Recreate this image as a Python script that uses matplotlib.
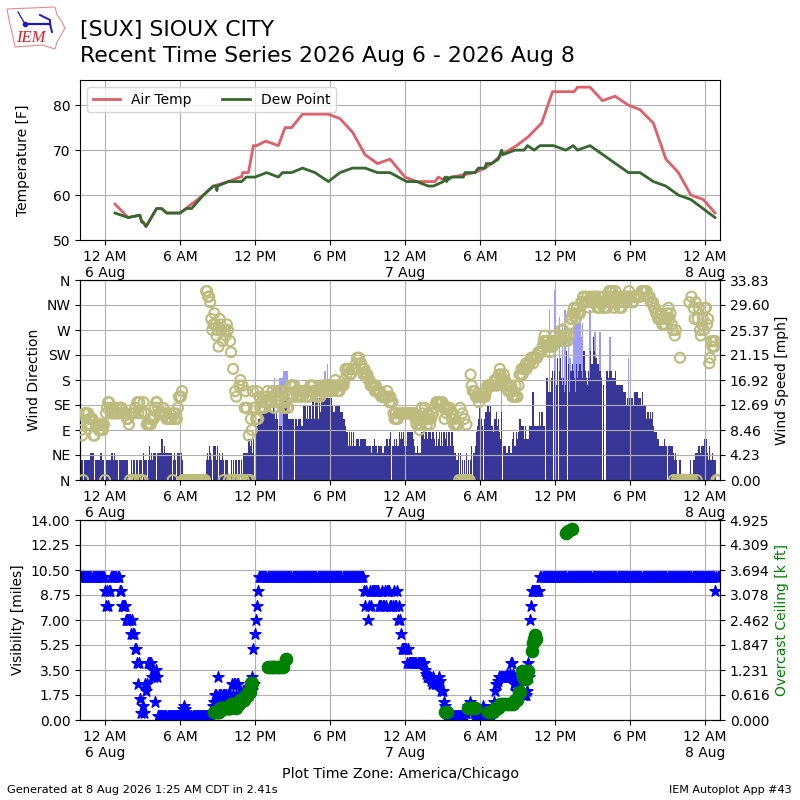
#!/usr/bin/env python3
# Recent time series plot for SUX: temperature, wind, visibility / ceiling
import matplotlib
matplotlib.use("Agg")
import matplotlib.pyplot as plt
from matplotlib.lines import Line2D
from matplotlib.patches import Polygon
import numpy as np

# x values are hours after midnight on 6 Aug (local time)
temp_hours = [0.8, 1.85, 2.75, 2.95, 3.05, 3.28, 4.13, 4.53, 4.93, 6.0, 6.93, 7.87, 8.67,
              9.87, 10.8, 10.93, 11.0, 11.47, 11.87, 12.13, 12.85, 13.87, 14.4, 14.93, 15.8, 17.87,
              18.8, 19.8, 20.8, 21.8, 22.8, 24.0, 24.93, 26.4, 26.67, 27.0, 27.73, 28.67,
              29.6, 30.4, 30.93, 31.73, 32.93, 33.87, 34.93, 35.8, 37.53, 37.8, 38.8, 39.8,
              40.8, 41.87, 42.8, 43.87, 44.87, 45.87, 46.87, 47.87, 48.8]
air_temp = [58, 55, 55.5, 54, 54, 53, 57, 57, 56, 56, 58, 60, 62,
            63, 64, 64, 65, 65, 71, 71, 72, 71, 75, 75, 78, 78,
            77, 74, 69, 67, 68, 64, 63, 63, 64, 63.5, 64, 64.5,
            65, 66, 67, 69, 71, 73, 76, 83, 83, 84, 84, 81,
            82, 80, 79, 76, 68, 65, 60, 59, 56]

dew_hours = [0.8, 1.85, 2.75, 2.8, 2.95, 3.05, 3.28, 4.13, 4.53, 4.93, 6.0, 6.53, 6.93, 7.87,
             8.67, 8.9, 8.95, 9.0, 9.87, 10.93, 11.3, 12.0, 12.93, 13.87, 14.2, 14.93, 15.8,
             16.8, 17.87, 18.8, 19.8, 20.8, 21.8, 22.8, 24.13, 24.93, 25.87, 26.27, 27.07,
             27.2, 27.33, 27.4, 27.5, 27.73, 28.67, 28.8, 29.6, 29.87, 30.4, 30.5, 30.93,
             31.47, 31.73, 31.84, 32.8, 33.53, 33.8, 34.33, 34.8, 35.87, 36.87, 37.47, 37.8,
             38.8, 41.87, 42.8, 43.87, 44.87, 45.87, 46.87, 48.8]
dew_point = [56, 55, 55.5, 55.5, 54, 54, 53, 57, 57, 56, 56, 57, 57, 60,
             62, 62, 61, 62, 63, 63, 64, 64, 65, 64, 65, 65, 66,
             65, 63, 65, 66, 66, 65, 65, 63, 63, 62, 62, 63,
             64, 63, 64, 63.5, 64, 64, 65, 65, 66, 66, 67, 67,
             68, 70, 69, 70, 70, 71, 70, 71, 71, 70, 71, 70,
             71, 65, 65, 63, 62, 60, 59, 55]

# one row per hour, from 22:00 on 5 Aug, 5 minute observations
wind_kt = [
    3, 3, 3, 0, 3, 3, 3, 3, 3, 3, 4, 4,
    4, 4, 0, 3, 3, 3, 3, 3, 4, 4, 3, 3,
    0, 3, 3, 3, 3, 3, 4, 4, 3, 4, 3, 3,
    3, 0, 3, 3, 3, 3, 3, 3, 3, 3, 3, 0,
    0, 3, 0, 3, 3, 0, 3, 3, 0, 3, 3, 3,
    0, 4, 3, 3, 3, 0, 3, 5, 3, 4, 3, 4,
    4, 0, 4, 4, 4, 4, 6, 6, 4, 5, 4, 4,
    4, 4, 4, 4, 4, 0, 3, 4, 3, 0, 4, 4,
    4, 4, 3, 0, 0, 0, 0, 0, 0, 0, 0, 0,
    0, 0, 0, 0, 0, 0, 0, 0, 0, 0, 0, 0,
    0, 3, 4, 3, 5, 4, 3, 0, 5, 5, 5, 3,
    5, 0, 4, 3, 3, 4, 3, 0, 3, 3, 3, 0,
    0, 3, 0, 3, 0, 3, 3, 0, 3, 3, 0, 3,
    0, 4, 4, 4, 4, 4, 6, 6, 5, 6, 4, 7,
    0, 8, 8, 9, 9, 9, 9, 10, 10, 11, 10, 11,
    10, 10, 10, 11, 10, 10, 11, 10, 9, 10, 9, 0,
    8, 8, 0, 11, 12, 12, 11, 11, 9, 9, 9, 9,
    9, 9, 0, 9, 9, 8, 9, 9, 9, 8, 8, 11,
    11, 9, 11, 9, 11, 11, 9, 12, 12, 9, 12, 12,
    12, 9, 12, 10, 12, 12, 12, 12, 12, 12, 12, 12,
    12, 12, 11, 10, 10, 11, 11, 11, 11, 11, 10, 10,
    10, 9, 9, 8, 7, 7, 5, 7, 5, 7, 5, 7,
    5, 6, 6, 6, 5, 6, 6, 6, 6, 6, 6, 5,
    5, 5, 5, 5, 4, 5, 5, 6, 5, 5, 4, 5,
    5, 5, 4, 4, 5, 5, 6, 6, 5, 6, 7, 0,
    5, 5, 6, 5, 6, 5, 5, 7, 6, 7, 6, 7,
    5, 5, 7, 7, 7, 7, 7, 7, 6, 5, 4, 4,
    5, 4, 4, 4, 7, 7, 7, 6, 7, 7, 6, 7,
    7, 6, 7, 7, 6, 5, 7, 5, 6, 7, 5, 7,
    5, 7, 7, 6, 7, 5, 7, 7, 5, 7, 7, 5,
    4, 3, 3, 4, 0, 4, 0, 3, 0, 3, 0, 4,
    0, 3, 0, 3, 5, 0, 4, 4, 5, 7, 8, 9,
    11, 9, 8, 0, 9, 10, 10, 11, 11, 10, 11, 8,
    8, 7, 9, 9, 10, 8, 9, 7, 6, 10, 0, 5,
    5, 4, 4, 5, 5, 4, 4, 6, 7, 5, 5, 7,
    6, 7, 9, 9, 8, 8, 8, 6, 8, 6, 6, 6,
    8, 8, 13, 13, 8, 8, 8, 8, 8, 10, 8, 10,
    10, 8, 8, 0, 15, 15, 13, 13, 13, 15, 16, 0,
    16, 14, 18, 0, 16, 18, 15, 14, 15, 13, 14, 19,
    0, 17, 13, 16, 16, 17, 16, 15, 13, 17, 15, 16,
    17, 16, 15, 19, 19, 16, 15, 14, 16, 15, 19, 17,
    17, 21, 19, 18, 18, 17, 17, 16, 16, 15, 0, 14,
    0, 16, 16, 15, 16, 16, 16, 15, 15, 15, 16, 14,
    14, 14, 14, 14, 14, 14, 13, 13, 13, 11, 12, 11,
    12, 12, 12, 11, 13, 13, 13, 13, 12, 12, 12, 11,
    13, 11, 11, 11, 9, 10, 10, 9, 10, 9, 10, 8,
    7, 7, 6, 6, 5, 5, 5, 5, 5, 6, 5, 5,
    0, 5, 5, 5, 5, 5, 4, 3, 4, 3, 0, 0,
    3, 0, 0, 0, 0, 0, 0, 0, 0, 0, 3, 0,
    0, 3, 3, 4, 4, 4, 5, 5, 4, 5, 5, 5,
    6, 6, 4, 3, 5, 3, 3, 4, 3, 3, 3, 0,
    0, 0,
]

wind_dir = [
    100, 90, 80, 0, 120, 120, 120, 100, 120, 110, 100, 110,
    110, 80, 80, 100, 100, 100, 90, 100, 90, 100, 90, 100,
    0, 120, 130, 140, 140, 130, 120, 120, 130, 120, 120, 130,
    120, 120, 130, 130, 130, 120, 120, 120, 120, 110, 110, 100,
    0, 120, 120, 0, 120, 130, 0, 140, 120, 140, 0, 120,
    0, 140, 120, 120, 100, 100, 100, 110, 100, 110, 110, 110,
    130, 140, 140, 130, 120, 120, 120, 120, 130, 120, 120, 110,
    110, 110, 120, 110, 110, 0, 120, 110, 120, 110, 130, 150,
    150, 150, 160, 0, 0, 0, 0, 0, 0, 0, 0, 0,
    0, 0, 0, 0, 0, 0, 0, 0, 0, 0, 0, 0,
    0, 340, 340, 330, 330, 320, 290, 270, 280, 300, 280, 260,
    270, 240, 290, 280, 270, 250, 0, 270, 260, 280, 270, 0,
    250, 230, 0, 200, 0, 160, 150, 0, 0, 170, 180, 0,
    170, 0, 130, 160, 130, 0, 80, 0, 110, 90, 160, 130,
    130, 110, 160, 110, 150, 130, 140, 130, 150, 130, 140, 150,
    160, 140, 140, 150, 140, 160, 130, 130, 150, 140, 160, 160,
    160, 150, 160, 130, 130, 140, 140, 130, 130, 150, 170, 170,
    170, 150, 170, 160, 150, 160, 150, 160, 150, 160, 150, 160,
    160, 150, 160, 150, 150, 170, 170, 160, 170, 160, 160, 150,
    160, 150, 160, 150, 170, 160, 170, 170, 160, 170, 160, 170,
    170, 160, 170, 160, 170, 180, 170, 160, 170, 160, 170, 170,
    170, 170, 180, 200, 190, 200, 200, 190, 190, 200, 200, 200,
    200, 210, 220, 220, 220, 210, 210, 200, 190, 200, 190, 190,
    190, 180, 180, 170, 170, 170, 170, 160, 170, 160, 160, 160,
    160, 150, 150, 150, 150, 150, 150, 160, 150, 140, 150, 140,
    140, 120, 110, 120, 110, 110, 120, 120, 120, 120, 120, 120,
    120, 120, 120, 120, 120, 120, 120, 120, 120, 120, 110, 100,
    110, 100, 90, 100, 130, 120, 110, 130, 110, 100, 120, 110,
    100, 110, 120, 120, 130, 130, 140, 140, 140, 140, 140, 140,
    140, 130, 110, 130, 120, 130, 130, 130, 120, 110, 120, 100,
    110, 100, 100, 100, 0, 130, 0, 120, 0, 110, 0, 100,
    0, 0, 0, 190, 170, 160, 160, 160, 150, 150, 150, 140,
    150, 150, 150, 150, 150, 150, 160, 170, 170, 170, 170, 170,
    170, 170, 180, 170, 180, 170, 190, 200, 190, 180, 180, 190,
    180, 170, 170, 160, 170, 160, 170, 150, 160, 150, 170, 150,
    150, 170, 190, 190, 200, 190, 200, 200, 210, 200, 210, 210,
    210, 220, 220, 210, 220, 220, 220, 220, 230, 230, 230, 230,
    240, 250, 260, 250, 240, 250, 240, 230, 240, 250, 240, 250,
    260, 250, 250, 250, 250, 260, 270, 250, 270, 260, 250, 260,
    250, 260, 280, 290, 290, 300, 310, 300, 290, 310, 300, 300,
    300, 320, 320, 330, 330, 320, 320, 330, 320, 310, 330, 320,
    320, 330, 330, 330, 320, 310, 330, 310, 320, 330, 320, 310,
    310, 320, 310, 330, 340, 340, 330, 340, 320, 310, 340, 330,
    330, 320, 310, 320, 310, 330, 320, 330, 330, 320, 330, 340,
    330, 330, 320, 320, 330, 330, 330, 330, 330, 330, 330, 340,
    340, 340, 340, 340, 340, 330, 330, 330, 320, 320, 320, 310,
    310, 300, 300, 290, 290, 300, 290, 280, 280, 290, 280, 290,
    300, 310, 290, 300, 280, 270, 0, 260, 270, 0, 0, 0,
    220, 0, 0, 0, 0, 0, 0, 0, 0, 320, 0, 330,
    0, 310, 290, 320, 0, 290, 310, 270, 260, 280, 290, 270,
    310, 310, 280, 290, 210, 220, 250, 240, 250, 240, 250, 0,
    0, 0,
]

gust_hours = [13.57, 14.0, 14.08, 14.17, 14.25, 14.33, 14.42, 14.5, 14.58, 17.6, 17.79,
              31.73, 35.33, 35.55, 35.95, 36.35, 36.6, 36.8, 37.07, 37.2, 37.47, 37.55,
              37.63, 37.72, 37.8, 37.88, 37.97, 38.05, 38.13, 38.22, 38.8, 39.2, 39.6,
              40.4, 41.87]
gust_mph = [17.2, 17.2, 17.2, 17.2, 18.4, 18.4, 18.4, 18.4, 18.4, 18.4, 19.6,
            15.5, 17.2, 28.8, 32.2, 27.6, 26.5, 28.8, 24.2, 20.7, 26.5, 26.5,
            27.6, 26.5, 27.6, 26.5, 27.6, 26.5, 24.2, 26.5, 28.8, 25.0, 25.0,
            24.2, 20.7]

visibility = (
    [10] * 24
    + [9, 8, 9, 8, 9, 9, 10, 10, 10, 10, 10, 10]
    + [10, 10, 9, 9, 8, 8, 8, 8, 7, 7, 7, 7]
    + [7, 6, 7, 6, 6, 5, 5, 4, 2.5, 4, 1.5, 0.5]
    + [1, 0.5, 2.5, 2, 2.5, 4, 4, 4, 4, 3, 3.5, 3]
    + [1.25, 3.5, 3, 0.25, 0.25, 0.25, 0.25, 0.25, 0.25, 0.25, 0.25, 0.25]
    + [0.25] * 12
    + [0.25, 0.5, 0.5, 0.75, 1, 0.75, 0.5, 0.25, 0.25, 0.25, 0.25, 0.25]
    + [0.25] * 12
    + [0.25, 0.25, 0.25, 0.25, 0.25, 0.25, 0.25, 0.5, 1, 1.25, 1.75, 1.75]
    + [3, 1.75, 1.75, 1.75, 1.5, 1.75, 1.75, 1.75, 1.75, 1.5, 1.75, 1.75]
    + [1.75, 1.25, 2.5, 1.75, 2.5, 2.5, 1.75, 2.5, 2.5, 1.75, 1.75, 1.75]
    + [2, 2, 2, 2, 2, 2, 1.75, 2, 2, 3, 5, 2.5]
    + [6, 7, 8, 9, 10, 10, 10, 10, 10, 10, 10, 10]
    + [10] * 84
    + [10, 10, 10, 10, 10, 10, 10, 10, 10, 9, 8, 9]
    + [7, 8, 9, 8, 9, 9, 9, 9, 9, 9, 9, 8]
    + [8, 8, 9, 8, 8, 9, 8, 9, 9, 9, 8, 8]
    + [8, 9, 8, 8, 9, 7, 8, 7, 6, 5, 5, 5]
    + [5, 5, 4, 5, 4, 4, 4, 4, 4, 4, 4, 4]
    + [4, 4, 4, 4, 4, 4, 4, 3.5, 3.25, 3, 3, 3]
    + [3, 2.75, 2.5, 3, 2.75, 2.5, 2.5, 2.75, 2.5, 3, 2.75, 2]
    + [2, 1.25, 1, 0.5, 0.25, 0.25, 0.25, 0.25, 0.25, 0.25, 0.25, 0.25]
    + [0.25, 0.25, 0.25, 0.25, 0.25, 0.25, 0.25, 0.25, 0.25, 0.25, 0.5, 0.5]
    + [1, 0.75, 1.25, 1, 0.75, 0.75, 0.5, 0.25, 0.25, 0.25, 0.25, 0.25]
    + [0.25, 0.5, 0.75, 1, 0.75, 0.5, 0.5, 0.25, 0.25, 0.5, 0.25, 0.25]
    + [1, 1.25, 2, 2.5, 2.5, 2.75, 3, 3, 3, 3, 3, 3]
    + [3, 3, 3.25, 3, 3, 3.25, 4, 4, 3.25, 2.5, 2.75, 2]
    + [2.5, 2, 1.75, 2, 2, 1.75, 1.75, 1.75, 1.75, 2, 4, 3]
    + [7, 8, 9, 9, 9, 9, 9, 9, 9, 9, 10, 10]
    + [10] * 156
    + [10, 10, 10, 10, 10, 10, 10, 10, 10, 10, 9, 10]
    + [10, 10]
)

ceil_hours = [8.75, 8.83, 8.92, 9.0, 9.08, 9.17, 9.25, 9.33, 9.42, 9.5, 9.58, 9.67, 9.75,
              9.83, 9.92, 10.0, 10.08, 10.17, 10.25, 10.33, 10.42, 10.5, 10.58, 10.67,
              10.75, 10.83, 10.92, 11.0, 11.08, 11.17, 11.25, 11.33, 11.42, 11.5, 11.58,
              11.67, 11.75, 13.07, 13.25, 13.4, 13.6, 13.8, 14.0, 14.27, 14.49,
              27.2, 27.33, 29.07, 29.25, 29.4, 29.6, 30.67, 30.85, 31.0, 31.2, 31.47,
              31.6, 31.8, 32.0, 32.2, 32.4, 32.6, 32.8, 32.95, 33.1, 33.2, 33.33, 33.45,
              33.55, 33.67, 33.75, 33.87, 34.13, 34.2, 34.3, 34.4, 34.47, 36.85, 37.07,
              37.33]
ceil_kft = [0.2, 0.2, 0.2, 0.2, 0.2, 0.3, 0.3, 0.3, 0.3, 0.3, 0.3, 0.3, 0.3,
            0.3, 0.3, 0.3, 0.4, 0.4, 0.4, 0.4, 0.4, 0.3, 0.4, 0.4,
            0.4, 0.5, 0.5, 0.5, 0.5, 0.6, 0.6, 0.6, 0.7, 0.7, 0.7,
            0.9, 0.9, 1.3, 1.3, 1.3, 1.3, 1.3, 1.3, 1.3, 1.5,
            0.2, 0.2, 0.3, 0.3, 0.3, 0.3, 0.2, 0.2, 0.2, 0.3, 0.3,
            0.4, 0.4, 0.4, 0.4, 0.4, 0.4, 0.5, 0.5, 0.7, 0.7, 1.2, 1.1,
            1.0, 1.0, 1.2, 1.2, 1.7, 1.9, 2.0, 2.1, 2.0, 4.6, 4.65,
            4.7]

tick_hours = [0, 6, 12, 18, 24, 30, 36, 42, 48]
tick_labels = ["12 AM\n6 Aug", "6 AM", "12 PM", "6 PM", "12 AM\n7 Aug", "6 AM", "12 PM", "6 PM",
               "12 AM\n8 Aug"]
dir_labels = ["N", "NE", "E", "SE", "S", "SW", "W", "NW", "N"]
speed_labels = ["0.00", "4.23", "8.46", "12.69", "16.92", "21.15", "25.37", "29.60", "33.83"]
vis_labels = ["0.00", "1.75", "3.50", "5.25", "7.00", "8.75", "10.50", "12.25", "14.00"]
ceil_labels = ["0.000", "0.616", "1.231", "1.847", "2.462", "3.078", "3.694", "4.309", "4.925"]

# 5 minute observation times
obs_hours = np.arange(len(wind_kt)) / 12.0 - 2
wind_mph = np.array(wind_kt) * 1.15078


def setup_time_axis(ax):
    ax.set_xlim(-2, 49.2)
    ax.set_xticks(tick_hours)
    ax.set_xticklabels(tick_labels)
    ax.grid(True)


fig = plt.figure(figsize=(8, 8), dpi=100)

# top panel
ax1 = fig.add_axes([0.1, 0.70, 0.8, 0.20])
ax1.plot(temp_hours, air_temp, color="#df5f69", lw=2, label="Air Temp")
ax1.plot(dew_hours, dew_point, color="#35682f", lw=2, label="Dew Point")
ax1.set_ylim(50, 85.6)
ax1.set_yticks([50, 60, 70, 80])
ax1.set_ylabel("Temperature [F]", labelpad=16)
setup_time_axis(ax1)
ax1.legend(loc="upper left", ncol=2, fontsize=10, columnspacing=2.2)

# middle panel, bars sit on a twin axis that stays behind the grid
ax2 = fig.add_axes([0.1, 0.40, 0.8, 0.25])
ax2b = ax2.twinx()
ax2.set_zorder(ax2b.get_zorder() + 1)
ax2.patch.set_visible(False)
ax2b.bar(gust_hours, gust_mph, width=1 / 12, color="#9c9cff", linewidth=0)
ax2b.bar(obs_hours, wind_mph, width=1 / 12, color="#383799", linewidth=0, antialiased=False)
ax2b.set_ylim(0, 33.83)
ax2b.set_yticks(np.arange(9) * 33.83 / 8)
ax2b.set_yticklabels(speed_labels)
ax2b.set_ylabel("Wind Speed [mph]")
ax2.scatter(obs_hours, wind_dir, s=52, facecolors="none", edgecolors="#bdbb7d", linewidths=1.5, zorder=3)
ax2.set_ylim(0, 360)
ax2.set_yticks(np.arange(0, 361, 45))
ax2.set_yticklabels(dir_labels)
ax2.set_ylabel("Wind Direction")
setup_time_axis(ax2)

# bottom panel
ax3 = fig.add_axes([0.1, 0.10, 0.8, 0.25])
ax3b = ax3.twinx()
ax3.scatter(obs_hours, visibility, marker="*", s=70, color="blue", zorder=3)
ax3.set_ylim(0, 14)
ax3.set_yticks(np.arange(0, 14.1, 1.75))
ax3.set_yticklabels(vis_labels)
ax3.set_ylabel("Visibility [miles]")
setup_time_axis(ax3)
ax3b.scatter(ceil_hours, ceil_kft, s=78, color="green", zorder=4)
ax3b.set_ylim(0, 4.925)
ax3b.set_yticks(np.arange(9) * 4.925 / 8)
ax3b.set_yticklabels(ceil_labels)
ax3b.set_ylabel("Overcast Ceiling [k ft]", color="green")

# titles and footers
fig.text(0.1, 0.9625, "[SUX] SIOUX CITY", fontsize=15.85, va="center")
fig.text(0.1, 0.93, "Recent Time Series 2026 Aug 6 - 2026 Aug 8", fontsize=15.85, va="center")
fig.text(0.5, 0.032, "Plot Time Zone: America/Chicago", fontsize=10.3, ha="center", va="center")
fig.text(0.009, 0.0125, "Generated at 8 Aug 2026 1:25 AM CDT in 2.41s", fontsize=8.2, va="center")
fig.text(0.989, 0.0125, "IEM Autoplot App #43", fontsize=8, ha="right", va="center")

# IEM logo, coordinates are picture pixels
logo = fig.add_axes([0, 0.9375, 0.09, 0.0625])
logo.set_xlim(0, 72)
logo.set_ylim(50, 0)
logo.axis("off")
logo.add_patch(Polygon([(7, 9), (55, 7), (57, 15), (62, 22), (65, 28), (57, 42), (55, 49),
                        (42, 45), (15, 47), (13, 37), (9, 20)],
                       fill=False, edgecolor="#e88a8a", lw=0.8))
logo.add_line(Line2D([25, 50], [24, 24], color="#1a1ac8", lw=1.6))
logo.add_line(Line2D([18, 25], [12, 24], color="#1a1ac8", lw=0.9))
logo.add_line(Line2D([40, 50, 50, 52], [15, 20, 24, 32], color="#1a1ac8", lw=1.4))
logo.plot([25], [24], "o", color="#1a1ac8", ms=3)
logo.text(31, 38, "IEM", color="#d8202a", fontsize=12, style="italic", family="Liberation Serif",
          ha="center", va="center")

fig.savefig("out.png", dpi=100)
